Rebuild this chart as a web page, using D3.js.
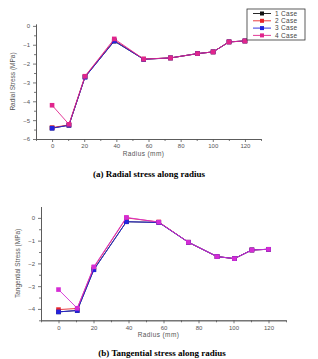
<!DOCTYPE html>
<html lang="en">
<head>
  <meta charset="UTF-8" />
  <title>Radial and tangential stress along radius</title>
  <script src="https://d3js.org/d3.v7.min.js"></script>
  <style>
    body { margin: 0; background: #fff; }
    svg { display: block; }
    .tick text { font-family: "Liberation Sans", Arial, sans-serif; fill: #555; }
    .caption { font-family: "Liberation Serif", "Times New Roman", serif; font-weight: bold; }
  </style>
</head>
<body>
  <div id="chart"></div>
  <script>
    // Valores
    const cases = ["1 Case", "2 Case", "3 Case", "4 Case"];
    const radialX = [0, 10.5, 20.5, 38.7, 57, 73.7, 90.5, 100.2, 110.1, 120];
    const radial1 = [-5.42, -5.27, -2.71, -0.81, -1.77, -1.70, -1.47, -1.38, -0.85, -0.80];
    const radial2 = [-5.40, -5.25, -2.68, -0.76, -1.76, -1.70, -1.47, -1.38, -0.85, -0.80];
    const radial3 = [-5.43, -5.27, -2.72, -0.80, -1.77, -1.70, -1.47, -1.38, -0.85, -0.80];
    const radial4 = [-4.21, -5.22, -2.67, -0.69, -1.76, -1.70, -1.47, -1.38, -0.85, -0.80];

    const tangX = [0, 10.7, 20.2, 38.8, 57.3, 74.2, 90.6, 100.5, 110.5, 120];
    const tang1 = [-4.13, -4.07, -2.27, -0.17, -0.20, -1.07, -1.70, -1.79, -1.41, -1.38];
    const tang2 = [-4.03, -3.98, -2.18, 0.00, -0.18, -1.07, -1.70, -1.79, -1.41, -1.38];
    const tang3 = [-4.13, -4.07, -2.28, -0.17, -0.20, -1.07, -1.70, -1.79, -1.41, -1.38];
    const tang4 = [-3.15, -3.97, -2.15, 0.02, -0.19, -1.07, -1.70, -1.79, -1.41, -1.38];

    const xTicks = [0, 20, 40, 60, 80, 100, 120];

    const W = 318, H = 359;
    const svg = d3.select("#chart").append("svg")
      .attr("width", W).attr("height", H);

    function drawPanel(opt) {
      const x = d3.scaleLinear().domain([-10, 130]).range([opt.left, opt.right]);
      const y = d3.scaleLinear().domain(opt.yDomain).range([opt.bottom, opt.top]);
      const g = svg.append("g");

      // eixos
      g.append("g")
        .attr("transform", `translate(0,${opt.bottom})`)
        .call(d3.axisBottom(x).tickValues(xTicks).tickFormat(d3.format("d"))
          .tickSize(3).tickSizeOuter(0).tickPadding(2));
      g.append("g")
        .attr("transform", `translate(0,${opt.bottom})`)
        .call(d3.axisBottom(x).tickValues(d3.range(-10, 131, 20)).tickSize(2).tickFormat("").tickSizeOuter(0));
      g.append("g")
        .attr("transform", `translate(${opt.left},0)`)
        .call(d3.axisLeft(y).tickValues(opt.yTicks).tickFormat(d3.format("d"))
          .tickSize(3).tickSizeOuter(0).tickPadding(3));
      g.append("g")
        .attr("transform", `translate(${opt.left},0)`)
        .call(d3.axisLeft(y).tickValues(opt.yTicks.map(v => v - 0.5).filter(v => v >= opt.yDomain[0]))
          .tickSize(2).tickFormat("").tickSizeOuter(0));
      g.selectAll(".domain, .tick line").attr("stroke", "#555").attr("stroke-width", 0.8);
      g.selectAll(".tick text").attr("font-size", 6);

      // rótulos
      g.append("text")
        .attr("x", (opt.left + opt.right) / 2 - 5).attr("y", opt.bottom + 17)
        .attr("text-anchor", "middle")
        .attr("font-family", "Liberation Sans, Arial, sans-serif")
        .attr("font-size", 6.5).attr("fill", "#555").attr("letter-spacing", 0.4)
        .text("Radius (mm)");
      const cy = (opt.top + opt.bottom) / 2;
      g.append("text")
        .attr("transform", `translate(${opt.left - 21},${cy}) rotate(-90)`)
        .attr("text-anchor", "middle")
        .attr("font-family", "Liberation Sans, Arial, sans-serif")
        .attr("font-size", 6.5).attr("fill", "#555")
        .text(opt.yLabel);

      const line = d3.line().x((d, i) => x(opt.xs[i])).y(d => y(d));
      opt.series.forEach((s, k) => {
        g.append("path").datum(s)
          .attr("fill", "none").attr("stroke", opt.colors[k]).attr("stroke-width", 0.9)
          .attr("d", line);
        g.selectAll(null).data(s).join("rect")
          .attr("x", (d, i) => x(opt.xs[i]) - 2.3).attr("y", d => y(d) - 2.3)
          .attr("width", 4.6).attr("height", 4.6)
          .attr("fill", opt.colors[k]);
      });

      svg.append("text").attr("class", "caption")
        .attr("x", opt.capX).attr("y", opt.capY)
        .attr("text-anchor", "middle").attr("font-size", 9)
        .text(opt.caption);
      return { x, y };
    }

    drawPanel({
      left: 36, right: 261, top: 24, bottom: 139,
      yDomain: [-6, 0.1], yTicks: [0, -1, -2, -3, -4, -5, -6],
      xs: radialX, series: [radial1, radial2, radial3, radial4],
      colors: ["#111", "#e8252a", "#2222dd", "#e0258c"],
      yLabel: "Radial Stress (MPa)",
      caption: "(a) Radial stress along radius", capX: 149, capY: 177
    });

    drawPanel({
      left: 41, right: 286, top: 206.5, bottom: 320.3,
      yDomain: [-4.5, 0.5], yTicks: [0, -1, -2, -3, -4],
      xs: tangX, series: [tang1, tang2, tang3, tang4],
      colors: ["#111", "#e8252a", "#2222dd", "#d52cd5"],
      yLabel: "Tangential Stress (MPa)",
      caption: "(b) Tangential stress along radius", capX: 162, capY: 356
    });

    // legenda (somente no gráfico a)
    const legColors = ["#111", "#e8252a", "#2222dd", "#e0258c"];
    const leg = svg.append("g").attr("transform", "translate(247,9)");
    leg.append("rect").attr("width", 58).attr("height", 31)
      .attr("fill", "#fff").attr("stroke", "#333").attr("stroke-width", 0.8);
    cases.forEach((c, i) => {
      const yy = 4.5 + i * 7.3;
      leg.append("line").attr("x1", 6).attr("x2", 24).attr("y1", yy).attr("y2", yy)
        .attr("stroke", legColors[i]).attr("stroke-width", 0.9);
      leg.append("rect").attr("x", 13).attr("y", yy - 2).attr("width", 4).attr("height", 4)
        .attr("fill", legColors[i]);
      leg.append("text").attr("x", 28).attr("y", yy + 2.3)
        .attr("font-family", "Liberation Sans, Arial, sans-serif")
        .attr("font-size", 6.5).attr("fill", "#444").attr("letter-spacing", 0.3)
        .text(c);
    });
  </script>
</body>
</html>
